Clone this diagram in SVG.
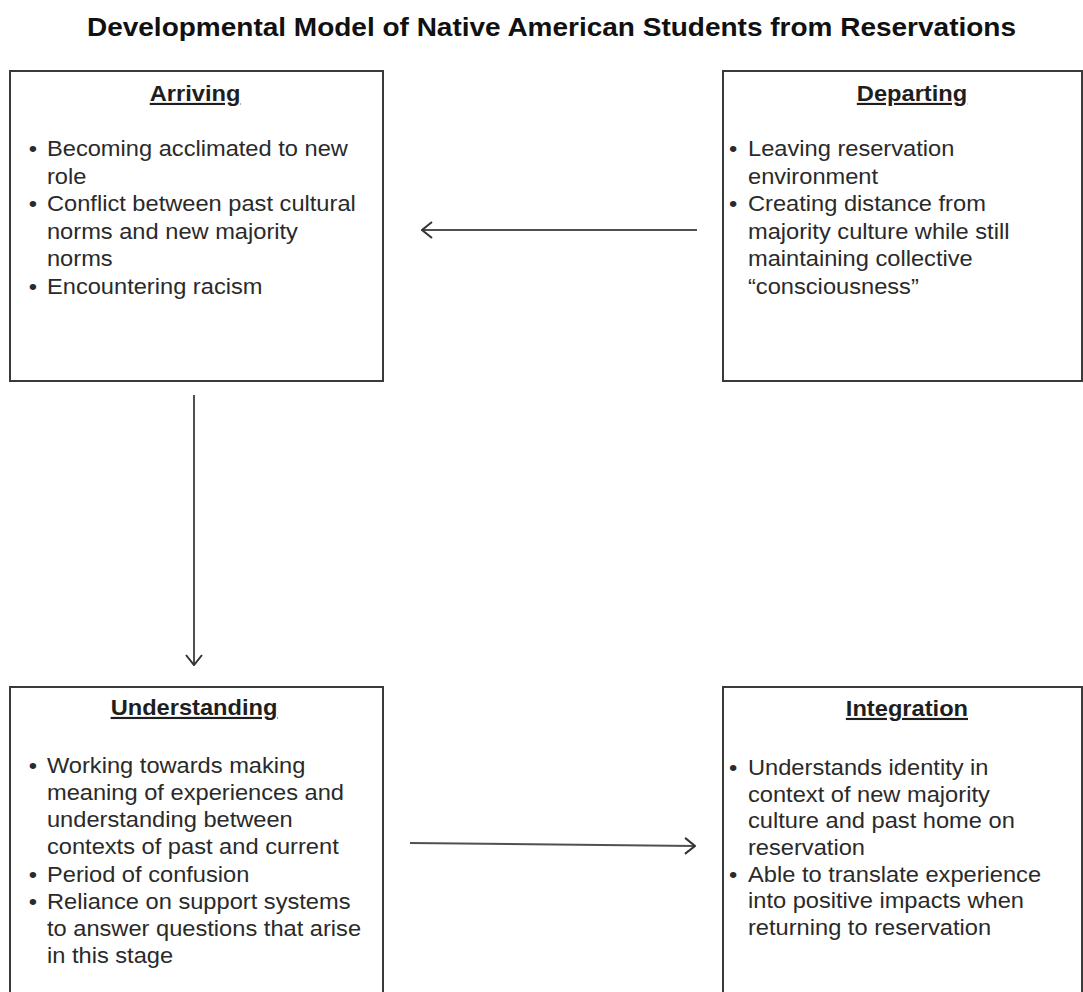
<svg xmlns="http://www.w3.org/2000/svg" width="1083" height="992" viewBox="0 0 1083 992">
<style>
.box{fill:#fff;stroke:#3a3a3a;stroke-width:2}
.t{font-family:"Liberation Sans",Arial,sans-serif;font-size:21.5px;fill:#2a2a2a}
.h{font-family:"Liberation Sans",Arial,sans-serif;font-size:21.5px;font-weight:bold;fill:#1e1e1e;text-anchor:middle;text-decoration:underline}
.b{text-anchor:middle}
.title{font-family:"Liberation Sans",Arial,sans-serif;font-size:25px;font-weight:bold;fill:#111;text-anchor:middle}
.c{fill:none;stroke:#505050;stroke-width:2}
</style>
<defs>
<marker id="ah" markerUnits="userSpaceOnUse" viewBox="0 0 12 18" refX="11" refY="9" markerWidth="12" markerHeight="18" orient="auto">
<path d="M1,1 L11,9 L1,17" fill="none" stroke="#333" stroke-width="2"/>
</marker>
</defs>
<rect width="1083" height="992" fill="#fff"/>
<g transform="scale(1.12,1)">
<text class="title" x="492.4" y="36">Developmental Model of Native American Students from Reservations</text>
</g>
<g id="arriving">
<rect class="box" x="10" y="71" width="373" height="310"/>
<g transform="scale(1.1,1)">
<text class="h" x="177.3" y="101">Arriving</text>
<text class="t b" x="30" y="156">•</text>
<text class="t" x="42.7" y="156">Becoming acclimated to new</text>
<text class="t" x="42.7" y="183.6">role</text>
<text class="t b" x="30" y="211.2">•</text>
<text class="t" x="42.7" y="211.2">Conflict between past cultural</text>
<text class="t" x="42.7" y="238.8">norms and new majority</text>
<text class="t" x="42.7" y="266.4">norms</text>
<text class="t b" x="30" y="294">•</text>
<text class="t" x="42.7" y="294">Encountering racism</text>
</g>
</g>
<g id="departing">
<rect class="box" x="723" y="71" width="359" height="310"/>
<g transform="scale(1.1,1)">
<text class="h" x="829.1" y="101">Departing</text>
<text class="t b" x="666.4" y="156">•</text>
<text class="t" x="680" y="156">Leaving reservation</text>
<text class="t" x="680" y="183.6">environment</text>
<text class="t b" x="666.4" y="211.2">•</text>
<text class="t" x="680" y="211.2">Creating distance from</text>
<text class="t" x="680" y="238.8">majority culture while still</text>
<text class="t" x="680" y="266.4">maintaining collective</text>
<text class="t" x="680" y="294">“consciousness”</text>
</g>
</g>
<g id="understanding">
<rect class="box" x="10" y="687" width="373" height="330"/>
<g transform="scale(1.1,1)">
<text class="h" x="176.4" y="715">Understanding</text>
<text class="t b" x="30" y="773">•</text>
<text class="t" x="42.7" y="773">Working towards making</text>
<text class="t" x="42.7" y="800.1">meaning of experiences and</text>
<text class="t" x="42.7" y="827.3">understanding between</text>
<text class="t" x="42.7" y="854.4">contexts of past and current</text>
<text class="t b" x="30" y="881.6">•</text>
<text class="t" x="42.7" y="881.6">Period of confusion</text>
<text class="t b" x="30" y="908.7">•</text>
<text class="t" x="42.7" y="908.7">Reliance on support systems</text>
<text class="t" x="42.7" y="935.9">to answer questions that arise</text>
<text class="t" x="42.7" y="963">in this stage</text>
</g>
</g>
<g id="integration">
<rect class="box" x="723" y="687" width="359" height="330"/>
<g transform="scale(1.1,1)">
<text class="h" x="824.5" y="716">Integration</text>
<text class="t b" x="666.4" y="775">•</text>
<text class="t" x="680" y="775">Understands identity in</text>
<text class="t" x="680" y="801.7">context of new majority</text>
<text class="t" x="680" y="828.3">culture and past home on</text>
<text class="t" x="680" y="855">reservation</text>
<text class="t b" x="666.4" y="881.7">•</text>
<text class="t" x="680" y="881.7">Able to translate experience</text>
<text class="t" x="680" y="908.3">into positive impacts when</text>
<text class="t" x="680" y="935">returning to reservation</text>
</g>
</g>
<g id="connectors">
<line class="c" x1="697" y1="230" x2="422" y2="230" marker-end="url(#ah)"/>
<line class="c" x1="194" y1="395" x2="194" y2="665" marker-end="url(#ah)"/>
<line class="c" x1="410" y1="843" x2="695" y2="846" marker-end="url(#ah)"/>
</g>
</svg>
